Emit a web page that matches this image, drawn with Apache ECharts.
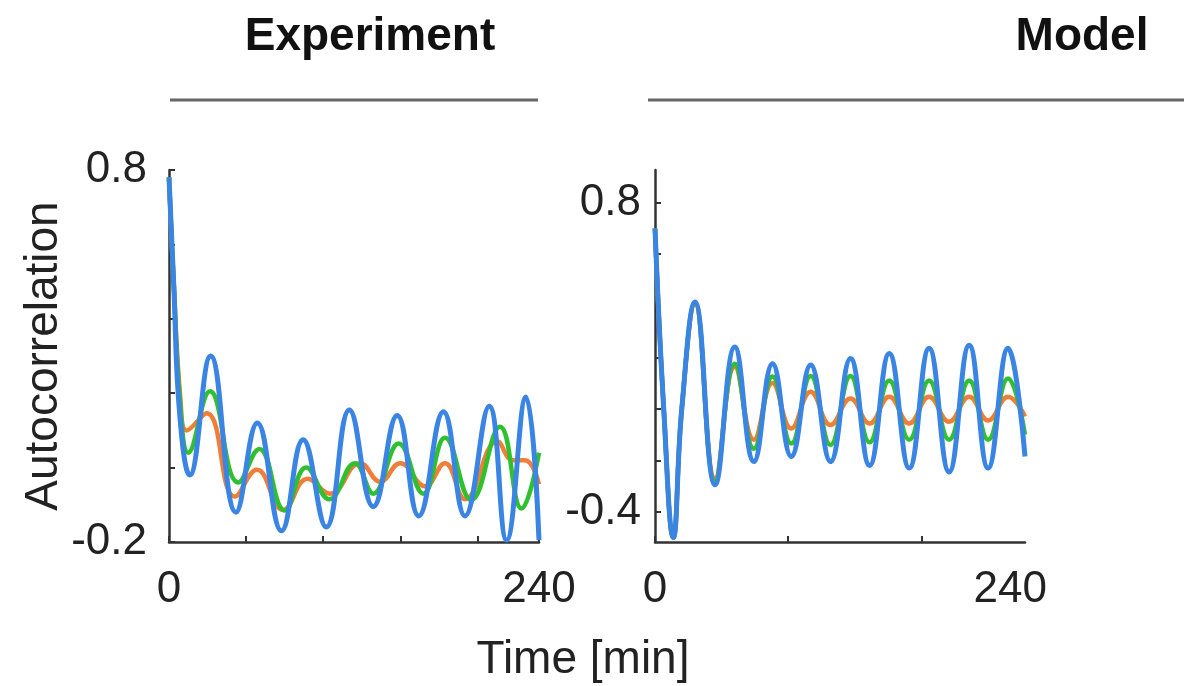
<!DOCTYPE html>
<html>
<head>
<meta charset="utf-8">
<title>Autocorrelation</title>
<script src="https://cdn.jsdelivr.net/npm/echarts@6/dist/echarts.min.js"></script>
<style>
  html, body { margin: 0; padding: 0; background: #fff; }
  #chart { width: 1184px; height: 686px; }
</style>
</head>
<body>
<div id="chart"></div>
<script>
// Experiment panel: [time (min), autocorrelation]
const expBlue = [[0, 0.78], [3, 0.5], [7, 0.14], [13.5, -0.02], [27, 0.3], [43.5, -0.12], [57.3, 0.12],
  [73, -0.17], [87, 0.075], [102, -0.16], [117, 0.155], [132.5, -0.105], [148, 0.14], [162, -0.13],
  [178, 0.15], [192, -0.13], [207.7, 0.165], [219, -0.195], [231.5, 0.19], [240, -0.195]];
const expGreen = [[0, 0.78], [3, 0.5], [7.5, 0.16], [12.5, 0.04], [26.6, 0.205], [45, -0.04], [58.6, 0.05],
  [75, -0.115], [89, 0.0], [104, -0.085], [120.6, 0.012], [132.5, -0.07], [149, 0.065], [165, -0.07],
  [179, 0.08], [196, -0.087], [214.7, 0.11], [228.7, -0.11], [240, 0.04]];
const expOrange = [[0, 0.78], [3, 0.5], [7.5, 0.18], [11.5, 0.1], [24.4, 0.146], [42.8, -0.078], [57, -0.006],
  [74, -0.114], [90, -0.03], [104.4, -0.07], [124, 0.012], [137, -0.038], [150, 0.012], [166, -0.05],
  [179, 0.012], [192, -0.085], [213, 0.07], [223, 0.02], [231, 0.02], [240, -0.045]];

// Model panel
const modBlue = [[0, 0.7], [5.9, 0.0], [12.35, -0.5], [18.1, 0.0], [27.05, 0.415], [40.6, -0.295], [53.9, 0.24],
  [66.8, -0.205], [79.4, 0.175], [92.1, -0.185], [105.2, 0.17], [118.6, -0.205], [132.1, 0.195], [145, -0.22],
  [158.3, 0.215], [171.8, -0.23], [185.2, 0.235], [198.7, -0.245], [212.3, 0.247], [225.1, -0.23],
  [238.5, 0.235], [250, -0.185]];
const modGreen = [[0, 0.7], [5.9, 0.0], [12.35, -0.5], [18.1, 0.0], [27.05, 0.41], [40.6, -0.28], [53.9, 0.175],
  [66.8, -0.155], [79.4, 0.125], [92.1, -0.135], [105.2, 0.127], [118.6, -0.14], [132.1, 0.127], [145, -0.13],
  [158.3, 0.11], [171.8, -0.12], [185.2, 0.11], [198.7, -0.12], [212.3, 0.11], [225.1, -0.12],
  [238.5, 0.118], [250, -0.1]];
const modOrange = [[0, 0.7], [5.9, 0.0], [12.35, -0.5], [18.1, 0.0], [27.05, 0.405], [40.6, -0.27], [53.9, 0.163],
  [66.8, -0.12], [79.4, 0.1], [92.1, -0.076], [105.2, 0.066], [118.6, -0.063], [132.1, 0.04], [145, -0.057],
  [158.3, 0.047], [171.8, -0.057], [185.2, 0.047], [198.7, -0.05], [212.3, 0.047], [225.1, -0.045],
  [238.5, 0.047], [250, -0.03]];

// ticks / labels
const expXTicks = [0, 50, 100, 150, 200, 240];
const expXLabels = [0, 240];
const expYTicks = [-0.2, 0, 0.2, 0.4, 0.6, 0.8];
const expYLabels = [-0.2, 0.8];
const modXTicks = [0, 90, 180];
const modXLabels = [0, 240];
const modYTicks = [-0.4, -0.2, 0, 0.2, 0.4, 0.6, 0.8];
const modYLabels = [-0.4, 0.8];

const panelTitles = ['Experiment', 'Model'];

const FONT = '"Liberation Sans", Arial, sans-serif';
const colores = { blue: '#3a84e4', green: '#2fc02f', orange: '#f07d38' };

function ejeX(idx, max, ticks, labels) {
  return {
    type: 'value', gridIndex: idx, min: 0, max: max,
    axisLine: { onZero: false, lineStyle: { color: '#333', width: 2.5 } },
    axisTick: { inside: true, length: 6, customValues: ticks, lineStyle: { color: '#333', width: 2 } },
    axisLabel: { customValues: labels, margin: 26, fontSize: 44, color: '#222', fontFamily: FONT },
    splitLine: { show: false }
  };
}

function ejeY(idx, min, max, ticks, labels, margin) {
  return {
    type: 'value', gridIndex: idx, min: min, max: max,
    axisLine: { show: true, onZero: false, lineStyle: { color: '#333', width: 2.5 } },
    axisTick: { show: true, inside: true, length: 6, customValues: ticks, lineStyle: { color: '#333', width: 2 } },
    axisLabel: { customValues: labels, margin: margin, fontSize: 44, color: '#222', fontFamily: FONT },
    splitLine: { show: false }
  };
}

function linea(name, data, color, idx, width) {
  return {
    name: name, type: 'line', xAxisIndex: idx, yAxisIndex: idx,
    data: data, smooth: 0.45, showSymbol: false, animation: false,
    lineStyle: { color: color, width: width }
  };
}

const chart = echarts.init(document.getElementById('chart'), null, { renderer: 'canvas' });

const option = {
  backgroundColor: '#fff',
  animation: false,
  title: [
    { text: panelTitles[0], left: 370, top: 14, textAlign: 'center', padding: 0,
      textStyle: { fontSize: 46, fontWeight: 'bold', color: '#111', fontFamily: FONT } },
    { text: panelTitles[1], left: 1082, top: 14, textAlign: 'center', padding: 0,
      textStyle: { fontSize: 46, fontWeight: 'bold', color: '#111', fontFamily: FONT } },
    { text: 'Time [min]', left: 583, top: 637, textAlign: 'center', padding: 0,
      textStyle: { fontSize: 46, fontWeight: 'normal', color: '#222', fontFamily: FONT } }
  ],
  graphic: [
    { type: 'line', shape: { x1: 170, y1: 100, x2: 538, y2: 100 }, style: { stroke: '#666', lineWidth: 3 } },
    { type: 'line', shape: { x1: 648, y1: 100, x2: 1184, y2: 100 }, style: { stroke: '#666', lineWidth: 3 } }
  ],
  grid: [
    { left: 169, top: 170, width: 370, height: 372 },
    { left: 655, top: 170, width: 370, height: 372 }
  ],
  xAxis: [
    ejeX(0, 240, expXTicks, expXLabels),
    ejeX(1, 250, modXTicks, modXLabels)
  ],
  yAxis: [
    Object.assign(ejeY(0, -0.2, 0.8, expYTicks, expYLabels, 22), {
      name: 'Autocorrelation', nameLocation: 'middle', nameGap: 100,
      nameTextStyle: { fontSize: 46, color: '#222', fontFamily: FONT }
    }),
    ejeY(1, -0.517, 0.927, modYTicks, modYLabels, 14)
  ],
  series: [
    linea('orange', expOrange, colores.orange, 0, 4.5),
    linea('green', expGreen, colores.green, 0, 4.5),
    linea('blue', expBlue, colores.blue, 0, 5),
    linea('orange', modOrange, colores.orange, 1, 4.5),
    linea('green', modGreen, colores.green, 1, 4.5),
    linea('blue', modBlue, colores.blue, 1, 5)
  ]
};

chart.setOption(option);
</script>
</body>
</html>
